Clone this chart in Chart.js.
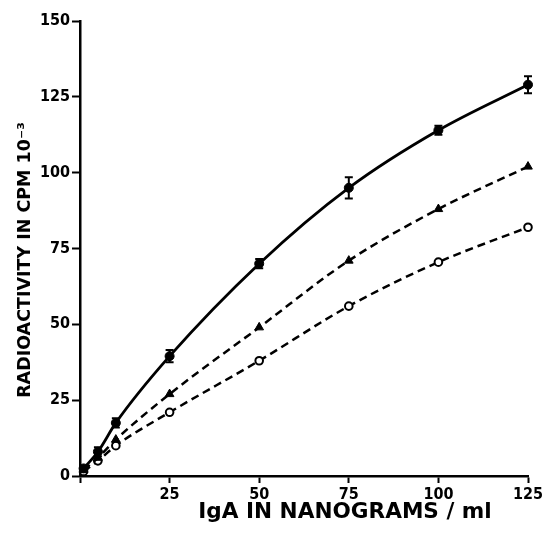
<!DOCTYPE html>
<html>
<head>
<meta charset="utf-8">
<script src="https://cdn.jsdelivr.net/npm/chart.js@4/dist/chart.umd.min.js"></script>
<style>
  html, body { margin: 0; padding: 0; background: #fff; }
  #wrap { width: 547px; height: 534px; }
</style>
</head>
<body>
<div id="wrap"><canvas id="chart" width="547" height="534"></canvas></div>
<script>
// Datos
const doses = [1, 5, 10, 25, 50, 75, 100, 125];
const filledCircles = [2.5, 8, 17.5, 39.5, 70, 95, 114, 129];
const filledErrors = [0, 1.5, 1.5, 2, 1.5, 3.5, 1.5, 2.8];
const triangles = [2, 6, 12, 27, 49, 71, 88, 102];
const openCircles = [1.5, 5, 10, 21, 38, 56, 70.5, 82];
const xTicks = [25, 50, 75, 100, 125];
const yTicks = [0, 25, 50, 75, 100, 125, 150];
const xTitle = 'IgA IN NANOGRAMS / ml';
const yTitle = 'RADIOACTIVITY IN CPM 10\u207B\u00B3';

const FONT = '"DejaVu Sans", "Liberation Sans", sans-serif';
const TICK_FONT = '"Liberation Sans Narrow", "DejaVu Sans Condensed", "Liberation Sans", sans-serif';
const toPoints = ys => doses.map((x, i) => ({ x, y: ys[i] }));

// barras de error sobre la serie continua
const errorBars = {
  id: 'errorBars',
  afterDatasetsDraw(chart) {
    const { ctx, scales: { x, y } } = chart;
    ctx.save();
    ctx.strokeStyle = '#000';
    ctx.lineWidth = 2;
    doses.forEach((d, i) => {
      const e = filledErrors[i];
      if (!e) return;
      const px = x.getPixelForValue(d);
      const top = y.getPixelForValue(filledCircles[i] + e);
      const bot = y.getPixelForValue(filledCircles[i] - e);
      ctx.beginPath();
      ctx.moveTo(px, top); ctx.lineTo(px, bot);
      ctx.moveTo(px - 4, top); ctx.lineTo(px + 4, top);
      ctx.moveTo(px - 4, bot); ctx.lineTo(px + 4, bot);
      ctx.stroke();
    });
    ctx.restore();
  }
};

// ajusta el tamano de letra para que el texto ocupe el ancho pedido
function fitFont(ctx, text, width) {
  ctx.font = 'bold 20px ' + FONT;
  const size = 20 * width / ctx.measureText(text).width;
  ctx.font = 'bold ' + size.toFixed(1) + 'px ' + FONT;
}

// titulos de ejes dibujados a mano para ubicarlos como en el original
const axisTitles = {
  id: 'axisTitles',
  afterDraw(chart) {
    const { ctx } = chart;
    ctx.save();
    ctx.fillStyle = '#000';
    ctx.textAlign = 'center';
    ctx.textBaseline = 'middle';
    fitFont(ctx, xTitle, 294);
    ctx.fillText(xTitle, 345, 512);
    ctx.translate(25, 260);
    ctx.rotate(-Math.PI / 2);
    fitFont(ctx, yTitle, 275);
    ctx.fillText(yTitle, 0, 0);
    ctx.restore();
  }
};

new Chart(document.getElementById('chart'), {
  type: 'line',
  data: {
    datasets: [
      {
        data: toPoints(filledCircles), clip: false,
        borderColor: '#000', borderWidth: 2.8,
        pointStyle: 'circle', pointRadius: 4.5,
        pointBackgroundColor: '#000', pointBorderColor: '#000', pointBorderWidth: 1,
        cubicInterpolationMode: 'monotone'
      },
      {
        data: toPoints(triangles), clip: false,
        borderColor: '#000', borderWidth: 2.5, borderDash: [8, 5],
        pointStyle: 'triangle', pointRadius: 5,
        pointBackgroundColor: '#000', pointBorderColor: '#000', pointBorderWidth: 1,
        cubicInterpolationMode: 'monotone'
      },
      {
        data: toPoints(openCircles), clip: false,
        borderColor: '#000', borderWidth: 2.5, borderDash: [8, 5],
        pointStyle: 'circle', pointRadius: 3.8,
        pointBackgroundColor: '#fff', pointBorderColor: '#000', pointBorderWidth: 2,
        cubicInterpolationMode: 'monotone'
      }
    ]
  },
  options: {
    responsive: false,
    animation: false,
    layout: { padding: { left: 0, right: 19, top: 21, bottom: 0 } },
    plugins: { legend: { display: false }, tooltip: { enabled: false } },
    scales: {
      x: {
        type: 'linear', min: 0, max: 125,
        afterFit: s => { s.height = 58; },
        afterBuildTicks: s => { s.ticks = [0].concat(xTicks).map(v => ({ value: v })); },
        border: { display: true, color: '#000', width: 2.5 },
        grid: { drawOnChartArea: false, color: '#000', tickLength: 7, tickWidth: 2 },
        ticks: {
          color: '#000', padding: 2, maxRotation: 0,
          font: { family: TICK_FONT, weight: 'bold', size: 16 },
          callback: v => (v === 0 ? '' : v)
        }
      },
      y: {
        min: 0, max: 150,
        afterFit: s => { s.width = 80; },
        afterBuildTicks: s => { s.ticks = yTicks.map(v => ({ value: v })); },
        border: { display: true, color: '#000', width: 2.5 },
        grid: { drawOnChartArea: false, color: '#000', tickLength: 8, tickWidth: 2 },
        ticks: {
          color: '#000', padding: 2,
          font: { family: TICK_FONT, weight: 'bold', size: 16 }
        }
      }
    }
  },
  plugins: [errorBars, axisTitles]
});
</script>
</body>
</html>
